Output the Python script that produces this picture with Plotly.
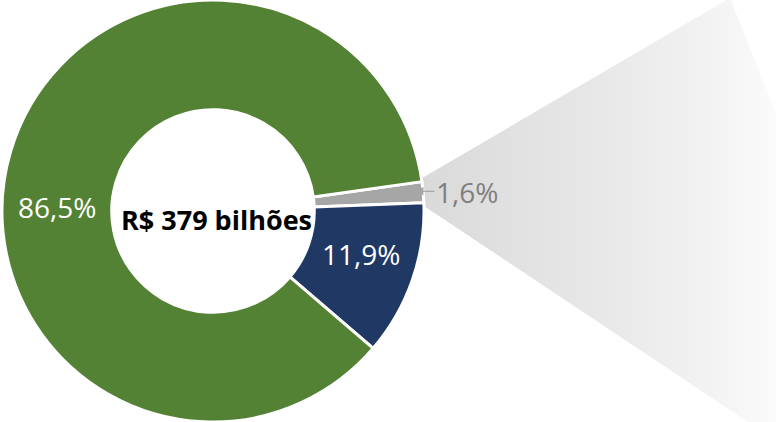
import plotly.graph_objects as go

# Dados do gráfico
categorias = ['Outros', 'Azul', 'Verde']
valores = [1.6, 11.9, 86.5]
cores = ['#a6a6a6', '#203864', '#548235']
total_texto = 'R$ 379 bilhões'

rotulos = [f"{v:.1f}".replace('.', ',') + '%' for v in valores]

fig = go.Figure()

# Leque cinza decorativo saindo da fatia menor
fig.add_trace(go.Scatter(
    x=[417, 730, 805, 805, 760, 421, 417],
    y=[181, -2, 185, 440, 430, 204, 181],
    mode='lines', fill='toself', line=dict(width=0),
    fillgradient=dict(type='horizontal',
                      colorscale=[[0, '#d9d9d9'], [0.45, '#e7e7e7'],
                                  [0.75, '#f2f2f2'], [1, '#ffffff']]),
    hoverinfo='skip', showlegend=False,
))

# Rosca
fig.add_trace(go.Pie(
    labels=categorias, values=valores, sort=False,
    direction='clockwise', rotation=82, hole=0.48,
    marker=dict(colors=cores, line=dict(color='white', width=3)),
    textinfo='none',
    domain=dict(x=[2 / 776, 424 / 776], y=[0, 1]),
    showlegend=False,
))

# Texto central
fig.add_annotation(x=216, y=219, xref='x', yref='y', text=f'<b>{total_texto}</b>',
                   showarrow=False, font=dict(family='Open Sans', size=27, color='black'))

# Rótulos das fatias
fig.add_annotation(x=57, y=207, xref='x', yref='y', text=rotulos[2], showarrow=False,
                   font=dict(family='Open Sans', size=28, color='white'))
fig.add_annotation(x=361, y=254, xref='x', yref='y', text=rotulos[1], showarrow=False,
                   font=dict(family='Open Sans', size=28, color='white'))

# Rótulo da fatia menor com seta
fig.add_annotation(x=415, y=191, xref='x', yref='y', ax=467, ay=192,
                   axref='x', ayref='y', text=rotulos[0], showarrow=True,
                   arrowhead=2, arrowsize=1.3, arrowwidth=1.3, arrowcolor='#a6a6a6',
                   font=dict(family='Open Sans', size=28, color='#7f7f7f'))

fig.update_layout(
    width=776, height=422,
    margin=dict(l=0, r=0, t=0, b=0),
    paper_bgcolor='white', plot_bgcolor='white',
    xaxis=dict(range=[0, 776], visible=False, fixedrange=True),
    yaxis=dict(range=[422, 0], visible=False, fixedrange=True),
)

fig.write_html('out.html', config={'displayModeBar': False},
               post_script="document.body.style.margin='0';")
